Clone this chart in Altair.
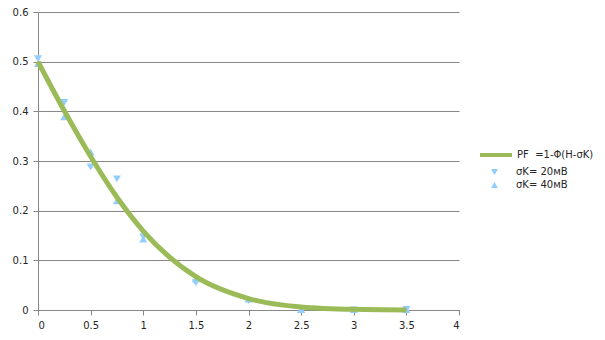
import altair as alt
import pandas as pd

# PF curve
x_pf = [0, 0.25, 0.5, 0.75, 1, 1.5, 2, 2.5, 3, 3.5]
pf = [0.5, 0.401, 0.309, 0.227, 0.159, 0.067, 0.023, 0.006, 0.0013, 0.0002]

# measured points
x_pts = [0, 0.25, 0.5, 0.75, 1, 1.5, 2, 2.5, 3, 3.5]
s20 = [0.506, 0.418, 0.288, 0.264, 0.147, 0.055, 0.019, 0.0, 0.0, 0.001]
s40 = [0.496, 0.389, 0.318, 0.220, 0.143, 0.063, 0.022, 0.001, 0.001, 0.001]

line_name = "PF\u00a0 =1-Φ(H-σK)"
name20 = "σK= 20мВ"
name40 = "σK= 40мВ"

x_ticks = [0, 0.5, 1, 1.5, 2, 2.5, 3, 3.5, 4]
y_ticks = [0, 0.1, 0.2, 0.3, 0.4, 0.5, 0.6]

df_line = pd.DataFrame({"x": x_pf, "y": pf, "curve": [line_name] * len(x_pf)})
df_pts = pd.DataFrame({
    "x": x_pts + x_pts,
    "y": s20 + s40,
    "series": [name20] * len(x_pts) + [name40] * len(x_pts),
})

FONT = "DejaVu Sans"
GRID = "#878787"
TXT = "#262626"

xenc = alt.X("x:Q", scale=alt.Scale(domain=[0, 4], nice=False),
             axis=alt.Axis(values=x_ticks, format="~g", title=None, grid=False,
                           domainColor=GRID, tickColor=GRID, tickSize=5,
                           labelPadding=5))
yenc = alt.Y("y:Q", scale=alt.Scale(domain=[0, 0.6], nice=False),
             axis=alt.Axis(values=y_ticks, format="~g", title=None, grid=True,
                           gridColor=GRID, domainColor=GRID, tickColor=GRID,
                           tickSize=5, labelPadding=5))

points = alt.Chart(df_pts).mark_point(filled=True, size=64, opacity=1).encode(
    x=xenc, y=yenc,
    shape=alt.Shape("series:N",
                    scale=alt.Scale(domain=[name20, name40],
                                    range=["triangle-down", "triangle-up"]),
                    legend=alt.Legend(title=None, orient="none", legendX=451.5, legendY=155,
                                      symbolSize=49, labelOffset=16.5, rowPadding=3,
                                      symbolFillColor="#93CDFB", symbolStrokeWidth=0,
                                      padding=0)),
    color=alt.value("#93CDFB"),
)

line = alt.Chart(df_line).mark_line(interpolate="monotone", strokeWidth=5).encode(
    x=xenc, y=yenc,
    color=alt.Color("curve:N",
                    scale=alt.Scale(domain=[line_name], range=["#9BBB59"]),
                    legend=alt.Legend(title=None, orient="none", legendX=440, legendY=125,
                                      symbolSize=1024, symbolStrokeWidth=4,
                                      labelOffset=3, padding=0)),
)

chart = alt.layer(points, line).properties(
    width=421, height=298,
    autosize=alt.AutoSizeParams(type="none"),
    padding={"left": 38, "top": 12, "right": 146, "bottom": 30},
    background="white",
).configure_view(stroke=None).configure_axis(
    labelFont=FONT, labelFontSize=10, labelColor=TXT,
).configure_legend(
    labelFont=FONT, labelFontSize=10, labelColor=TXT,
)

chart.save("out.html", embed_options={"renderer": "svg", "actions": False})
